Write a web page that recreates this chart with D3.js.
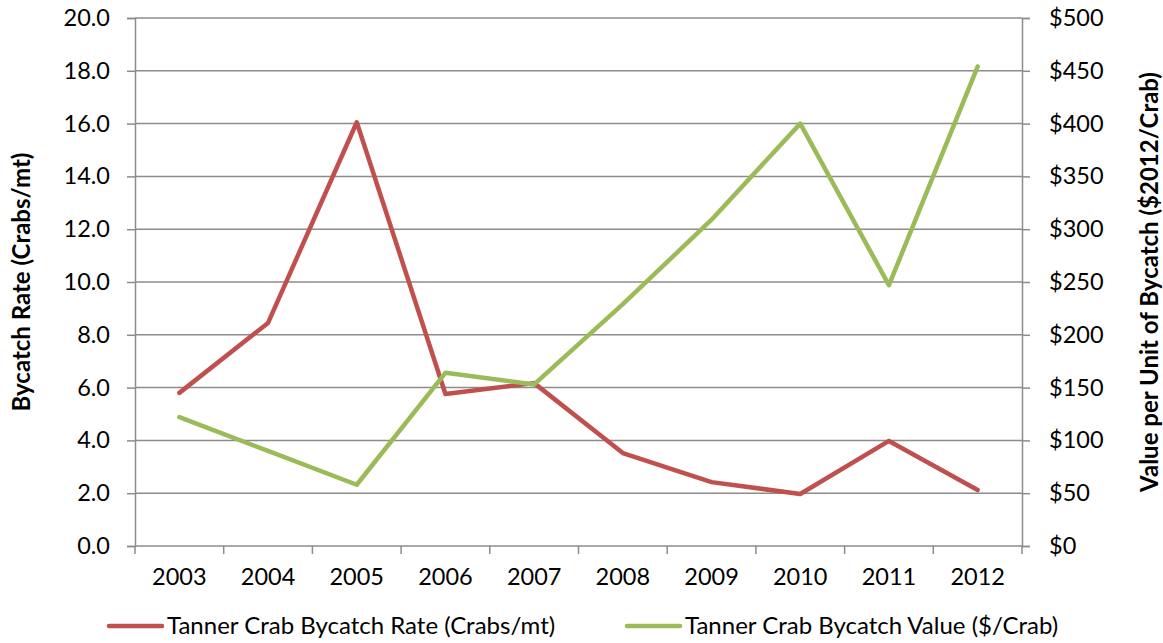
<!DOCTYPE html>
<html><head><meta charset="utf-8">
<script src="https://cdn.jsdelivr.net/npm/d3@7"></script>
<style>body{margin:0;background:#fff;} text{font-family:Lato,"Open Sans",sans-serif;fill:#000;}</style>
</head><body>
<svg id="c" width="1163" height="643"></svg>
<script>
const years = ["2003","2004","2005","2006","2007","2008","2009","2010","2011","2012"];
const rateValues = [5.8, 8.45, 16.05, 5.76, 6.17, 3.52, 2.42, 1.97, 3.98, 2.12];
const valueValues = [122, 90, 58, 164, 153, 229, 309, 400, 247, 454];
const leftTicks = [0,2,4,6,8,10,12,14,16,18,20];
const rightTicks = [0,50,100,150,200,250,300,350,400,450,500];
const seriesNames = ["Tanner Crab Bycatch Rate (Crabs/mt)", "Tanner Crab Bycatch Value ($/Crab)"];

const svg = d3.select("#c");
const L = 135, R = 1022, T = 18, B = 546;
const FS = "23.5px";
const x = d3.scaleBand().domain(years).range([L, R]);
const yL = d3.scaleLinear().domain([0,20]).range([B, T]);
const yR = d3.scaleLinear().domain([0,500]).range([B, T]);
const grey = "#8c8c8c";

svg.append("g").selectAll("line").data(leftTicks.slice(1)).join("line")
  .attr("x1", L).attr("x2", R).attr("y1", d=>yL(d)).attr("y2", d=>yL(d))
  .attr("stroke", grey).attr("stroke-width", 1.5);

const gl = svg.append("g").attr("transform", `translate(${L},0)`)
  .call(d3.axisLeft(yL).tickValues(leftTicks).tickFormat(d3.format(".1f")).tickSize(8).tickPadding(17));
const gr = svg.append("g").attr("transform", `translate(${R},0)`)
  .call(d3.axisRight(yR).tickValues(rightTicks).tickFormat(d=>"$"+d).tickSize(8).tickPadding(19));
const gb = svg.append("g").attr("transform", `translate(0,${B})`)
  .call(d3.axisBottom(x).tickSize(0).tickPadding(22));
[gl, gr, gb].forEach(g => {
  g.selectAll("path.domain").attr("stroke", grey).attr("stroke-width", 1.5);
  g.selectAll(".tick line").attr("stroke", grey).attr("stroke-width", 1.5);
  g.selectAll("text").style("font-size", FS).style("font-family", "Lato,'Open Sans',sans-serif").attr("fill", "#000");
});
gb.select("path.domain").attr("d", `M${L},0H${R}`);
const bounds = years.map(d => x(d)).concat([R]);
svg.append("g").selectAll("line").data(bounds).join("line")
  .attr("x1", d=>d).attr("x2", d=>d).attr("y1", B).attr("y2", B+8)
  .attr("stroke", grey).attr("stroke-width", 1.5);

const cx = d => x(d) + x.bandwidth()/2;
const lineL = d3.line().x((d,i)=>cx(years[i])).y(d=>yL(d));
const lineR = d3.line().x((d,i)=>cx(years[i])).y(d=>yR(d));
const red = "#C0504D", green = "#9BBB59";
svg.append("path").datum(rateValues).attr("d", lineL).attr("fill","none").attr("stroke", red).attr("stroke-width", 4.5).attr("stroke-linejoin","round").attr("stroke-linecap","round");
svg.append("path").datum(valueValues).attr("d", lineR).attr("fill","none").attr("stroke", green).attr("stroke-width", 4.5).attr("stroke-linejoin","round").attr("stroke-linecap","round");

svg.append("text").attr("transform", "translate(30,282) rotate(-90)").attr("text-anchor","middle")
  .style("font-size","24px").style("font-weight","bold").text("Bycatch Rate (Crabs/mt)");
svg.append("text").attr("transform", "translate(1158,282) rotate(-90)").attr("text-anchor","middle")
  .style("font-size","24px").style("font-weight","bold").text("Value per Unit of Bycatch ($2012/Crab)");

const leg = [{x:109, c:red, n:seriesNames[0]}, {x:627, c:green, n:seriesNames[1]}];
leg.forEach(l => {
  svg.append("line").attr("x1", l.x).attr("x2", l.x+53).attr("y1", 626).attr("y2", 626)
    .attr("stroke", l.c).attr("stroke-width", 4.5).attr("stroke-linecap","round");
  svg.append("text").attr("x", l.x+58).attr("y", 634).style("font-size","24px").text(l.n);
});
</script>
</body></html>
